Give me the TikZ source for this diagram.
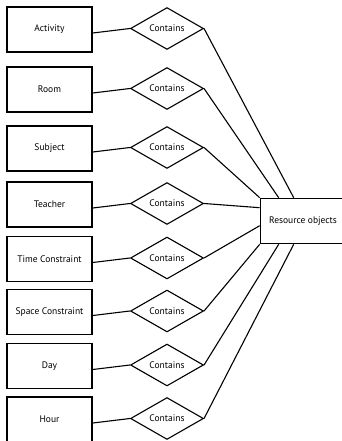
\documentclass[tikz,border=0pt]{standalone}
\usepackage{fontspec}
\setmainfont{PT Sans}
\usetikzlibrary{shapes.geometric}

\tikzset{
  entity/.style={draw,line width=1.6pt,minimum width=85pt,minimum height=45pt,inner sep=0pt,font=\fontsize{9.5}{11}\selectfont},
  relation/.style={draw,diamond,line width=1.1pt,minimum width=73pt,minimum height=37pt,inner sep=0pt,font=\fontsize{9.5}{11}\selectfont},
  link/.style={line width=1.1pt}
}

\begin{document}
\begin{tikzpicture}[x=1pt,y=-1pt]
\useasboundingbox (0,0) rectangle (342,441);
\clip (0,0) rectangle (342,441);
% target entity on the right
\node[entity] (res) at (303,221) {Resource objects};
\coordinate (r1) at ([xshift=34pt]res.north west);
\coordinate (r2) at ([xshift=19pt]res.north west);
\coordinate (r3) at (res.north west);
\coordinate (r4) at ([yshift=-10pt]res.north west);
\coordinate (r5) at ([yshift=-28pt]res.north west);
\coordinate (r6) at (res.south west);
\coordinate (r7) at ([xshift=19pt]res.south west);
\coordinate (r8) at ([xshift=34pt]res.south west);
% one row per resource
\foreach \name/\txt/\y/\k in {act/Activity/29.5/1, room/Room/89.5/2, subj/Subject/148.5/3,
  teach/Teacher/204.5/4, time/Time Constraint/259/5, space/Space Constraint/312/6,
  day/Day/366/7, hour/Hour/419.5/8}{
  \node[entity] (\name) at (49.5,\y) {\txt};
  \node[relation] (\name-c) at (167,\y-1) {Contains};
  \draw[link] ([yshift=-3.5pt]\name.east) -- (\name-c.west);
  \draw[link] (\name-c.east) -- (r\k);
}
\end{tikzpicture}
\end{document}
